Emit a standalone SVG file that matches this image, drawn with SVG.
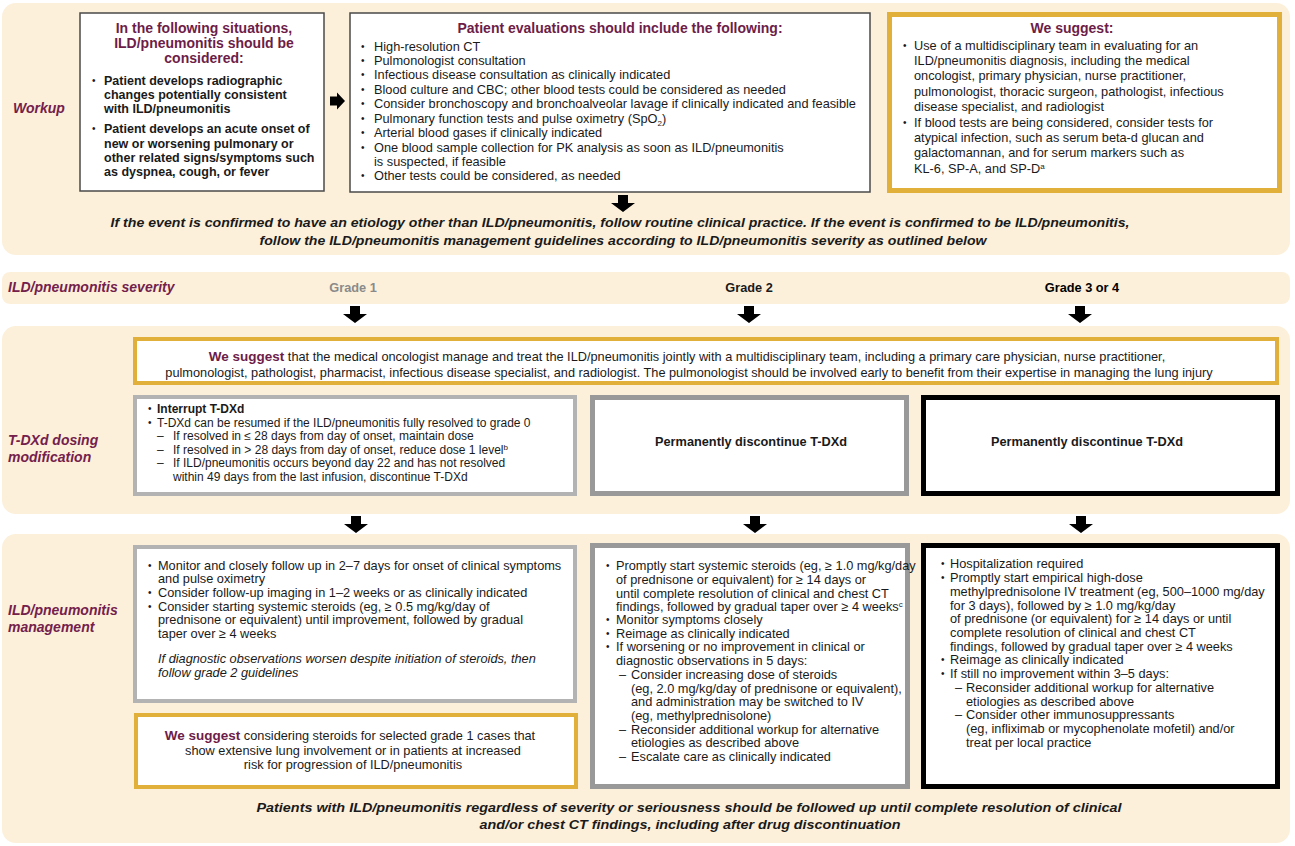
<svg xmlns="http://www.w3.org/2000/svg" width="1295" height="846" viewBox="0 0 1295 846">
<style>
text{font-family:"Liberation Sans",Arial,sans-serif;font-size:12.75px;fill:#1a1a1a}
.b{font-weight:bold}
.bx{font-weight:bold;font-size:12.5px}
.ttl{font-weight:bold;font-size:14px;fill:#6d1d48}
.ws{font-weight:bold;font-size:13.5px;fill:#6d1d48}
.lbl{font-weight:bold;font-style:italic;font-size:14px;fill:#74204c}
.it{font-style:italic}
.bi{font-weight:bold;font-style:italic;font-size:13.5px}
.c{text-anchor:middle}
.blt{font-size:10px}
.sup{font-size:8px}
.sm{font-size:12px}
.panel{fill:#fcf0da}
.wbox{fill:#fff;stroke:#4a4a4a;stroke-width:1.5}
.gold{fill:#fff;stroke:#e1b03a}
.g1{fill:#fff;stroke:#b3b3b3;stroke-width:4}
.g2{fill:#fff;stroke:#999;stroke-width:5}
.g3{fill:#fff;stroke:#000;stroke-width:5}
.arr{fill:#000}
</style>
<defs>
<path id="darr" d="M-5,0 H5 V8 H12 L0,17 L-12,8 H-5 Z"/>
<path id="rarr" d="M0,-4.5 V4.5 H7 V8.5 L15,0 L7,-8.5 V-4.5 Z"/>
</defs>
<rect width="1295" height="846" fill="#fff"/>

<g id="panels">
<rect class="panel" x="2" y="3" width="1288" height="252" rx="14"/>
<rect class="panel" x="2" y="272" width="1288" height="32" rx="8"/>
<rect class="panel" x="2" y="326" width="1288" height="188" rx="14"/>
<rect class="panel" x="2" y="534" width="1288" height="309" rx="14"/>
</g>

<g id="row-labels">
<text class="lbl" x="13" y="113">Workup</text>
<text class="lbl" x="8" y="292">ILD/pneumonitis severity</text>
<text class="lbl" x="8" y="445">T-DXd dosing</text>
<text class="lbl" x="8" y="462">modification</text>
<text class="lbl" x="8" y="615">ILD/pneumonitis</text>
<text class="lbl" x="8" y="632">management</text>
</g>

<g id="considered">
<rect class="wbox" x="80" y="13" width="244" height="178"/>
<text class="ttl c" x="204" y="33">In the following situations,</text>
<text class="ttl c" x="204" y="48">ILD/pneumonitis should be</text>
<text class="ttl c" x="204" y="63">considered:</text>
<text class="blt" x="92" y="84">•</text>
<text class="bx" x="104" y="85">Patient develops radiographic</text>
<text class="bx" x="104" y="99">changes potentially consistent</text>
<text class="bx" x="104" y="113">with ILD/pneumonitis</text>
<text class="blt" x="92" y="132">•</text>
<text class="bx" x="104" y="133">Patient develops an acute onset of</text>
<text class="bx" x="104" y="148">new or worsening pulmonary or</text>
<text class="bx" x="104" y="162">other related signs/symptoms such</text>
<text class="bx" x="104" y="176">as dyspnea, cough, or fever</text>
</g>

<g id="evaluations">
<rect class="wbox" x="350" y="13" width="520" height="179"/>
<text class="ttl c" x="620" y="33">Patient evaluations should include the following:</text>
<g>
<text class="blt" x="361" y="50">•</text><text x="374" y="51">High-resolution CT</text>
<text class="blt" x="361" y="64">•</text><text x="374" y="65">Pulmonologist consultation</text>
<text class="blt" x="361" y="78">•</text><text x="374" y="79">Infectious disease consultation as clinically indicated</text>
<text class="blt" x="361" y="93">•</text><text x="374" y="94">Blood culture and CBC; other blood tests could be considered as needed</text>
<text class="blt" x="361" y="107">•</text><text x="374" y="108">Consider bronchoscopy and bronchoalveolar lavage if clinically indicated and feasible</text>
<text class="blt" x="361" y="122">•</text><text x="374" y="123">Pulmonary function tests and pulse oximetry (SpO<tspan class="sup" dy="3">2</tspan><tspan dy="-3">)</tspan></text>
<text class="blt" x="361" y="136">•</text><text x="374" y="137">Arterial blood gases if clinically indicated</text>
<text class="blt" x="361" y="151">•</text><text x="374" y="152">One blood sample collection for PK analysis as soon as ILD/pneumonitis</text>
<text x="374" y="166">is suspected, if feasible</text>
<text class="blt" x="361" y="179">•</text><text x="374" y="180">Other tests could be considered, as needed</text>
</g>
</g>

<g id="suggest-workup">
<rect class="gold" stroke-width="5" x="889.5" y="14.5" width="390" height="176"/>
<text class="ttl c" x="1072" y="33">We suggest:</text>
<text class="blt" x="903" y="49">•</text><text x="914" y="50">Use of a multidisciplinary team in evaluating for an</text>
<text x="914" y="65">ILD/pneumonitis diagnosis, including the medical</text>
<text x="914" y="80">oncologist, primary physician, nurse practitioner,</text>
<text x="914" y="96">pulmonologist, thoracic surgeon, pathologist, infectious</text>
<text x="914" y="111">disease specialist, and radiologist</text>
<text class="blt" x="903" y="126">•</text><text x="914" y="127">If blood tests are being considered, consider tests for</text>
<text x="914" y="142">atypical infection, such as serum beta-d glucan and</text>
<text x="914" y="157">galactomannan, and for serum markers such as</text>
<text x="914" y="173">KL-6, SP-A, and SP-D<tspan class="sup" dy="-4">a</tspan></text>
</g>

<g id="workup-note">
<text class="bi c" x="620" y="227" textLength="1019" lengthAdjust="spacingAndGlyphs">If the event is confirmed to have an etiology other than ILD/pneumonitis, follow routine clinical practice. If the event is confirmed to be ILD/pneumonitis,</text>
<text class="bi c" x="623" y="245" textLength="727" lengthAdjust="spacingAndGlyphs">follow the ILD/pneumonitis management guidelines according to ILD/pneumonitis severity as outlined below</text>
</g>

<g id="grades">
<text class="b c" x="353" y="292" font-size="13.5" style="fill:#8a8a8a">Grade 1</text>
<text class="b c" x="749" y="292" font-size="13.5">Grade 2</text>
<text class="b c" x="1082" y="292" font-size="13.5" style="fill:#000">Grade 3 or 4</text>
</g>

<g id="suggest-team">
<rect class="gold" stroke-width="4" x="135" y="339" width="1142" height="44"/>
<text class="c" x="687" y="361"><tspan class="ws">We suggest</tspan> that the medical oncologist manage and treat the ILD/pneumonitis jointly with a multidisciplinary team, including a primary care physician, nurse practitioner,</text>
<text class="c" x="689" y="377">pulmonologist, pathologist, pharmacist, infectious disease specialist, and radiologist. The pulmonologist should be involved early to benefit from their expertise in managing the lung injury</text>
</g>

<g id="dose-g1">
<rect class="g1" x="135" y="397" width="440" height="97"/>
<text class="blt" x="148" y="412">•</text><text class="b sm" x="157" y="413">Interrupt T-DXd</text>
<text class="blt" x="148" y="425.5">•</text><text class="sm" x="157" y="426.5">T-DXd can be resumed if the ILD/pneumonitis fully resolved to grade 0</text>
<text class="sm" x="157" y="440">–</text><text class="sm" x="173" y="440">If resolved in ≤ 28 days from day of onset, maintain dose</text>
<text class="sm" x="157" y="453.5">–</text><text class="sm" x="173" y="453.5">If resolved in &gt; 28 days from day of onset, reduce dose 1 level<tspan class="sup" dy="-4">b</tspan></text>
<text class="sm" x="157" y="467">–</text><text class="sm" x="173" y="467">If ILD/pneumonitis occurs beyond day 22 and has not resolved</text>
<text class="sm" x="173" y="480.5">within 49 days from the last infusion, discontinue T-DXd</text>
</g>

<g id="dose-g2">
<rect class="g2" x="592.5" y="397.5" width="314" height="96"/>
<text class="b c" x="751" y="446">Permanently discontinue T-DXd</text>
</g>

<g id="dose-g3">
<rect class="g3" x="923.5" y="397.5" width="354" height="96"/>
<text class="b c" x="1087" y="446">Permanently discontinue T-DXd</text>
</g>

<g id="mgmt-g1">
<rect class="g1" x="135" y="547" width="440" height="154"/>
<text class="blt" x="148" y="569">•</text><text x="158" y="570">Monitor and closely follow up in 2–7 days for onset of clinical symptoms</text>
<text x="158" y="583">and pulse oximetry</text>
<text class="blt" x="148" y="596">•</text><text x="158" y="597">Consider follow-up imaging in 1–2 weeks or as clinically indicated</text>
<text class="blt" x="148" y="610">•</text><text x="158" y="611">Consider starting systemic steroids (eg, ≥ 0.5 mg/kg/day of</text>
<text x="158" y="624">prednisone or equivalent) until improvement, followed by gradual</text>
<text x="158" y="638">taper over ≥ 4 weeks</text>
<text class="it" x="158" y="663">If diagnostic observations worsen despite initiation of steroids, then</text>
<text class="it" x="158" y="677">follow grade 2 guidelines</text>
</g>

<g id="suggest-g1">
<rect class="gold" stroke-width="4" x="136" y="715" width="440" height="72"/>
<text class="c" x="350" y="740"><tspan class="ws">We suggest</tspan> considering steroids for selected grade 1 cases that</text>
<text class="c" x="353" y="755">show extensive lung involvement or in patients at increased</text>
<text class="c" x="353" y="769">risk for progression of ILD/pneumonitis</text>
</g>

<g id="mgmt-g2">
<rect class="g2" x="592.5" y="545.5" width="315" height="241"/>
<text class="blt" x="606" y="569">•</text><text x="616" y="570">Promptly start systemic steroids (eg, ≥ 1.0 mg/kg/day</text>
<text x="616" y="584">of prednisone or equivalent) for ≥ 14 days or</text>
<text x="616" y="598">until complete resolution of clinical and chest CT</text>
<text x="616" y="611">findings, followed by gradual taper over ≥ 4 weeks<tspan class="sup" dy="-4">c</tspan></text>
<text class="blt" x="606" y="623">•</text><text x="616" y="624">Monitor symptoms closely</text>
<text class="blt" x="606" y="637">•</text><text x="616" y="638">Reimage as clinically indicated</text>
<text class="blt" x="606" y="650">•</text><text x="616" y="651">If worsening or no improvement in clinical or</text>
<text x="616" y="665">diagnostic observations in 5 days:</text>
<text x="619" y="679">–</text><text x="631" y="679">Consider increasing dose of steroids</text>
<text x="631" y="693">(eg, 2.0 mg/kg/day of prednisone or equivalent),</text>
<text x="631" y="706">and administration may be switched to IV</text>
<text x="631" y="720">(eg, methylprednisolone)</text>
<text x="619" y="734">–</text><text x="631" y="734">Reconsider additional workup for alternative</text>
<text x="631" y="747">etiologies as described above</text>
<text x="619" y="761">–</text><text x="631" y="761">Escalate care as clinically indicated</text>
</g>

<g id="mgmt-g3">
<rect class="g3" x="923.5" y="545.5" width="354" height="241"/>
<text class="blt" x="941" y="567">•</text><text x="950" y="568">Hospitalization required</text>
<text class="blt" x="941" y="581">•</text><text x="950" y="582">Promptly start empirical high-dose</text>
<text x="950" y="596">methylprednisolone IV treatment (eg, 500–1000 mg/day</text>
<text x="950" y="610">for 3 days), followed by ≥ 1.0 mg/kg/day</text>
<text x="950" y="623">of prednisone (or equivalent) for ≥ 14 days or until</text>
<text x="950" y="637">complete resolution of clinical and chest CT</text>
<text x="950" y="651">findings, followed by gradual taper over ≥ 4 weeks</text>
<text class="blt" x="941" y="663">•</text><text x="950" y="664">Reimage as clinically indicated</text>
<text class="blt" x="941" y="677">•</text><text x="950" y="678">If still no improvement within 3–5 days:</text>
<text x="955" y="692">–</text><text x="966" y="692">Reconsider additional workup for alternative</text>
<text x="966" y="706">etiologies as described above</text>
<text x="955" y="719">–</text><text x="966" y="719">Consider other immunosuppressants</text>
<text x="966" y="733">(eg, infliximab or mycophenolate mofetil) and/or</text>
<text x="966" y="747">treat per local practice</text>
</g>

<g id="final-note">
<text class="bi c" x="689" y="812" textLength="865" lengthAdjust="spacingAndGlyphs">Patients with ILD/pneumonitis regardless of severity or seriousness should be followed up until complete resolution of clinical</text>
<text class="bi c" x="690" y="829" textLength="421" lengthAdjust="spacingAndGlyphs">and/or chest CT findings, including after drug discontinuation</text>
</g>

<g id="connectors" class="arr">
<use href="#rarr" x="330" y="101"/>
<use href="#darr" x="623" y="195"/>
<use href="#darr" x="355" y="306"/>
<use href="#darr" x="749" y="306"/>
<use href="#darr" x="1080" y="306"/>
<use href="#darr" x="356" y="516"/>
<use href="#darr" x="755" y="516"/>
<use href="#darr" x="1081" y="516"/>
</g>
</svg>
